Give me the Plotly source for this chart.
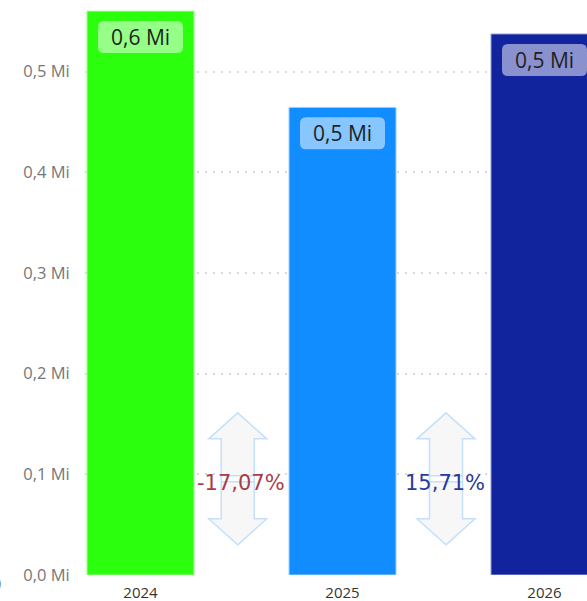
import plotly.graph_objects as go

# Data
years = ["2024", "2025", "2026"]
values = [0.56, 0.4644, 0.5373]
bar_colors = ["#2BFF0E", "#118DFF", "#12239E"]
edge_colors = ["#A6FF9A", "#A8D4FF", "#A0A8DC"]
bar_labels = ["0,6 Mi", "0,5 Mi", "0,5 Mi"]
y_ticks = [0, 0.1, 0.2, 0.3, 0.4, 0.5]
y_tick_labels = ["0,0 Mi", "0,1 Mi", "0,2 Mi", "0,3 Mi", "0,4 Mi", "0,5 Mi"]
changes = ["-17,07%", "15,71%"]
change_colors = ["#A83E4A", "#2A3A9E"]

W, H = 587, 601
L, B = 85, 26
FONT = "Open Sans"

fig = go.Figure(go.Bar(
    x=[0, 1, 2], y=values, width=0.53,
    marker=dict(color=bar_colors, line=dict(color=edge_colors, width=1)),
    hoverinfo="skip",
))

def rounded(x0, x1, y0, y1, r=6):
    return (f"M{x0+r},{y0} L{x1-r},{y0} Q{x1},{y0} {x1},{y0+r} L{x1},{y1-r} Q{x1},{y1} {x1-r},{y1} "
            f"L{x0+r},{y1} Q{x0},{y1} {x0},{y1-r} L{x0},{y0+r} Q{x0},{y0} {x0+r},{y0} Z")

shapes, annotations = [], []
for i, (v, lab) in enumerate(zip(values, bar_labels)):
    shapes.append(dict(type="path", layer="above", xref="x", yref="y",
                       xsizemode="pixel", ysizemode="pixel", xanchor=i, yanchor=v,
                       path=rounded(-42.5, 42.5, -42, -10),
                       fillcolor="rgba(255,255,255,0.5)", line=dict(width=0)))
    annotations.append(dict(x=i, y=v, xref="x", yref="y", text=lab, showarrow=False,
                            yshift=-26, yanchor="middle",
                            font=dict(family=FONT, size=21, color="#1f1f1f")))

def double_arrow(t):
    # two overlapping block arrows, pixels relative to the anchor
    up = f"M0,{t} L29,{t-26} L16.5,{t-26} L16.5,-3 L-16.5,-3 L-16.5,{t-26} L-29,{t-26} Z"
    down = f"M0,{-t} L29,{-t+26} L16.5,{-t+26} L16.5,3 L-16.5,3 L-16.5,{-t+26} L-29,{-t+26} Z"
    return up + " " + down

for i, (txt, col) in enumerate(zip(changes, change_colors)):
    xc = i + (0.4814 if i == 0 else 0.5124)
    shapes.append(dict(type="path", layer="above", xref="x", yref="y",
                       xsizemode="pixel", ysizemode="pixel", xanchor=xc, yanchor=0.0955,
                       path=double_arrow(66), fillcolor="#F7F7F8",
                       line=dict(color="#C5E0FB", width=1.5)))
    annotations.append(dict(x=xc, y=0.0915, xref="x", yref="y", text=txt, showarrow=False,
                            yanchor="middle", xshift=3 if i == 0 else -1,
                            font=dict(family="DejaVu Sans", size=21, color=col)))

# cut-off label of a neighbouring axis at the left page edge
annotations.append(dict(x=0, y=-0.0148, xref="paper", yref="paper", text="0", showarrow=False,
                        xshift=-82, xanchor="right", yanchor="middle",
                        font=dict(family=FONT, size=16.5, color="#777777")))

fig.update_layout(
    width=W, height=H, autosize=False,
    margin=dict(l=L, r=0, t=0, b=B, autoexpand=False),
    paper_bgcolor="white", plot_bgcolor="white",
    showlegend=False, shapes=shapes, annotations=annotations,
    xaxis=dict(range=[(L - 140.5) / 202, (W - 140.5) / 202], tickmode="array",
               tickvals=[0, 1, 2], ticktext=years, showgrid=False, zeroline=False,
               ticks="outside", ticklen=4, tickcolor="rgba(0,0,0,0)",
               tickfont=dict(family=FONT, size=15, color="#333333")),
    yaxis=dict(range=[0, (H - B) / 1007], tickmode="array", tickvals=y_ticks,
               ticktext=y_tick_labels, showgrid=True, griddash="2px,6px",
               gridcolor="#DADADA", gridwidth=1.5, zeroline=False,
               ticks="outside", ticklen=11, tickcolor="rgba(0,0,0,0)",
               tickfont=dict(family=FONT, size=16.5, color="#777777")),
)

fig.write_html("out.html", config=dict(displayModeBar=False),
               post_script="document.body.style.margin='0';document.documentElement.style.overflow='hidden';")
